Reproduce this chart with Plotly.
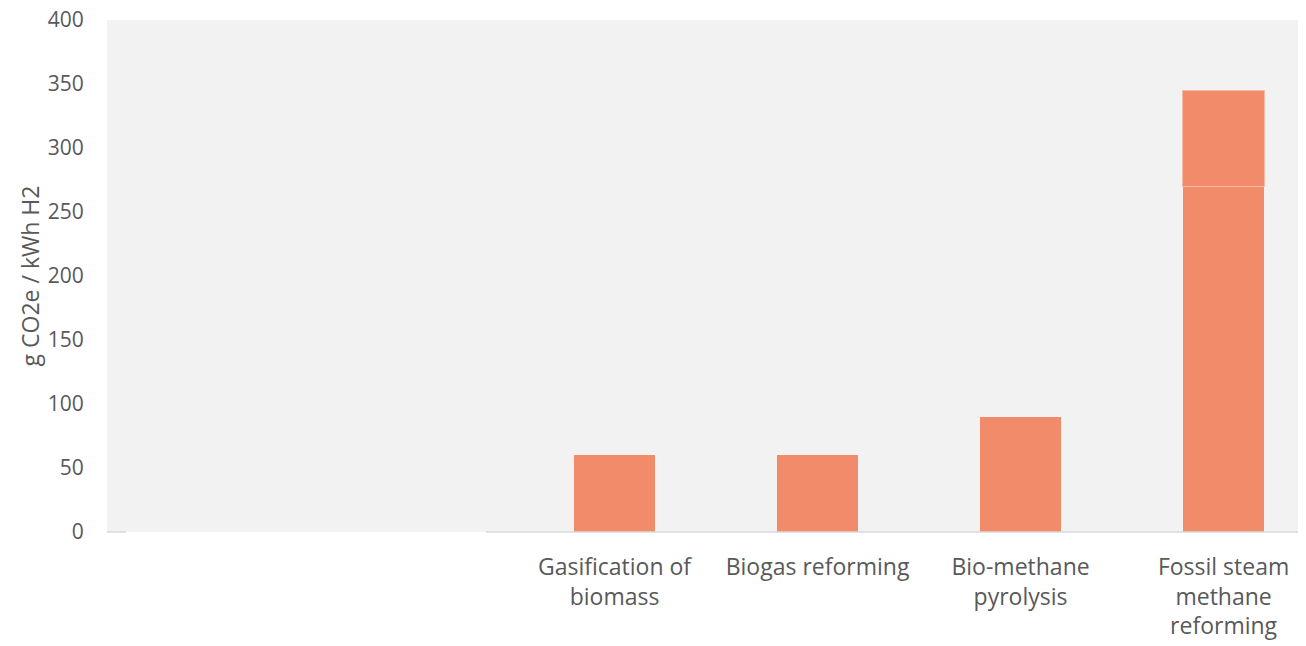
import plotly.graph_objects as go

categories = [" ", "  ", "Gasification of<br>biomass", "Biogas reforming",
              "Bio-methane<br>pyrolysis", "Fossil steam<br>methane<br>reforming"]
base_values = [None, None, 60, 60, 90, 270]
top_values = [None, None, None, None, None, 75]
y_ticks = [0, 50, 100, 150, 200, 250, 300, 350, 400]

BAR = "#F18B6A"
TXT = "#595959"
FONT = "Open Sans"

fig = go.Figure()
fig.add_trace(go.Bar(x=categories, y=base_values, marker=dict(color=BAR, line=dict(width=0)),
                     width=0.4, showlegend=False, hoverinfo="x+y"))
fig.add_trace(go.Bar(x=categories, y=top_values, marker=dict(color=BAR, line=dict(width=1, color="#F5BBA6")),
                     width=0.4, showlegend=False, hoverinfo="x+y"))

fig.update_layout(
    barmode="stack",
    width=1298, height=638,
    margin=dict(l=99, r=0, t=12, b=114),
    paper_bgcolor="white",
    plot_bgcolor="#F2F2F2",
    font=dict(family=FONT, size=20, color=TXT),
    xaxis=dict(type="category", range=[-0.5, 5.406], showline=False, showgrid=False,
               automargin=False, ticklabeloverflow="allow",
               ticks="outside", ticklen=14, tickcolor="rgba(0,0,0,0)",
               tickfont=dict(family=FONT, size=23, color=TXT), fixedrange=True),
    yaxis=dict(range=[0, 400], tickvals=y_ticks, showgrid=False, zeroline=False, showline=False,
               automargin=False, ticklabeloverflow="allow",
               ticks="outside", ticklen=18, tickcolor="rgba(0,0,0,0)",
               tickfont=dict(family=FONT, size=21, color=TXT),
               title=dict(text="g CO2e / kWh H2", font=dict(family=FONT, size=23, color=TXT), standoff=1)),
    shapes=[
        dict(type="line", xref="paper", yref="paper", x0=0, x1=0.016, y0=0, y1=0,
             line=dict(color="#D9D9D9", width=1.5)),
        dict(type="line", xref="paper", yref="paper", x0=0.316, x1=1, y0=0, y1=0,
             line=dict(color="#D9D9D9", width=1.5)),
    ],
)

fig.write_html("out.html")
